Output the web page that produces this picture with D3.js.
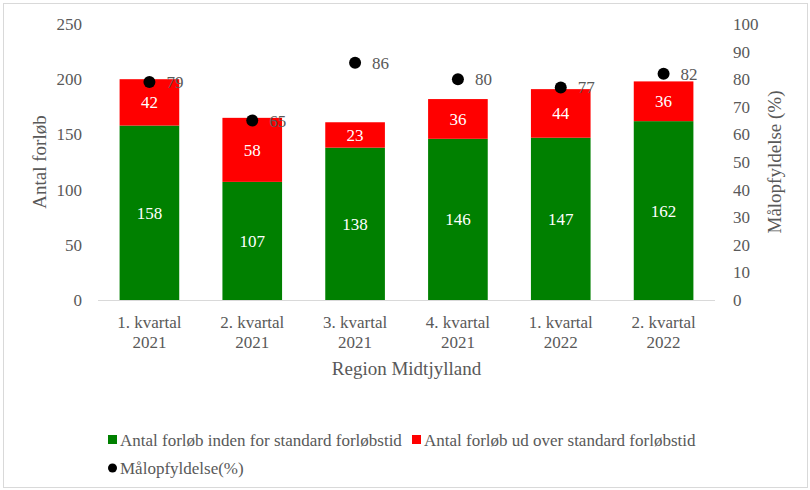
<!DOCTYPE html>
<html>
<head>
<meta charset="utf-8">
<script src="https://cdn.jsdelivr.net/npm/d3@7"></script>
<style>
	body { margin: 0; background: #fff; }
</style>
</head>
<body>
<svg id="chart" width="810" height="490"></svg>
<script>
	var categories = ['1. kvartal|2021', '2. kvartal|2021', '3. kvartal|2021', '4. kvartal|2021', '1. kvartal|2022', '2. kvartal|2022'];
	var inside = [158, 107, 138, 146, 147, 162];
	var outside = [42, 58, 23, 36, 44, 36];
	var goalPct = [79, 65, 86, 80, 77, 82];
	var leftTicks = [0, 50, 100, 150, 200, 250];
	var rightTicks = [0, 10, 20, 30, 40, 50, 60, 70, 80, 90, 100];

	var GREEN = '#008000', RED = '#ff0000', GREY = '#595959';
	var FONT = '"Liberation Serif", "Times New Roman", serif';

	var svg = d3.select('#chart');
	var margin = {top: 24, left: 98, bottom: 190, right: 95};
	var w = 810 - margin.left - margin.right;
	var h = 490 - margin.top - margin.bottom;

	// outer frame
	svg.append('rect')
		.attr('x', 3.5).attr('y', 3.5)
		.attr('width', 804).attr('height', 484)
		.attr('fill', 'none').attr('stroke', '#d9d9d9');

	var base = svg.append('g').attr('transform', 'translate(' + margin.left + ',' + margin.top + ')');

	var x = d3.scaleBand().domain(categories).range([0, w]).paddingInner(0.42).paddingOuter(0.21);
	var yLeft = d3.scaleLinear().domain([0, 250]).range([h, 0]);
	var yRight = d3.scaleLinear().domain([0, 100]).range([h, 0]);

	var rows = categories.map(function (c, i)
	{
		return {cat: c, a: inside[i], b: outside[i], p: goalPct[i]};
	});

	// bars - green bottom
	base.selectAll('rect.inside').data(rows).enter().append('rect')
		.attr('class', 'inside')
		.attr('x', function (d) { return x(d.cat); })
		.attr('width', x.bandwidth())
		.attr('y', function (d) { return yLeft(d.a); })
		.attr('height', function (d) { return yLeft(0) - yLeft(d.a); })
		.attr('fill', GREEN);

	// red on top
	base.selectAll('rect.outside').data(rows).enter().append('rect')
		.attr('class', 'outside')
		.attr('x', function (d) { return x(d.cat); })
		.attr('width', x.bandwidth())
		.attr('y', function (d) { return yLeft(d.a + d.b); })
		.attr('height', function (d) { return yLeft(d.a) - yLeft(d.a + d.b); })
		.attr('fill', RED);

	// bar labels
	base.selectAll('text.lblIn').data(rows).enter().append('text')
		.attr('x', function (d) { return x(d.cat) + x.bandwidth() / 2; })
		.attr('y', function (d) { return yLeft(d.a / 2); })
		.attr('dy', '0.35em').attr('text-anchor', 'middle')
		.attr('fill', '#fff').style('font-size', '17px')
		.text(function (d) { return d.a; });

	base.selectAll('text.lblOut').data(rows).enter().append('text')
		.attr('x', function (d) { return x(d.cat) + x.bandwidth() / 2; })
		.attr('y', function (d) { return yLeft(d.a + d.b / 2); })
		.attr('dy', '0.35em').attr('text-anchor', 'middle')
		.attr('fill', '#fff').style('font-size', '17px')
		.text(function (d) { return d.b; });

	// baseline
	base.append('line')
		.attr('x1', 0).attr('x2', w)
		.attr('y1', h + 0.5).attr('y2', h + 0.5)
		.attr('stroke', '#d9d9d9').attr('stroke-width', 1);

	// left axis
	var leftAxis = d3.axisLeft(yLeft).tickValues(leftTicks).tickSize(0).tickPadding(16);
	var gl = base.append('g').call(leftAxis);
	gl.select('.domain').remove();
	gl.selectAll('text').attr('fill', GREY).style('font-size', '17px');

	// right axis
	var rightAxis = d3.axisRight(yRight).tickValues(rightTicks).tickSize(0).tickPadding(18);
	var gr = base.append('g').attr('transform', 'translate(' + w + ',0)').call(rightAxis);
	gr.select('.domain').remove();
	gr.selectAll('text').attr('fill', GREY).style('font-size', '17px');

	// category labels (two lines)
	var gx = base.append('g').attr('transform', 'translate(0,' + h + ')');
	rows.forEach(function (d)
	{
		var parts = d.cat.split('|');
		var t = gx.append('text')
			.attr('x', x(d.cat) + x.bandwidth() / 2)
			.attr('text-anchor', 'middle')
			.attr('fill', GREY).style('font-size', '17px');
		t.append('tspan').attr('x', x(d.cat) + x.bandwidth() / 2).attr('y', 28).text(parts[0]);
		t.append('tspan').attr('x', x(d.cat) + x.bandwidth() / 2).attr('y', 48).text(parts[1]);
	});

	// goal dots
	base.selectAll('circle.goal').data(rows).enter().append('circle')
		.attr('cx', function (d) { return x(d.cat) + x.bandwidth() / 2; })
		.attr('cy', function (d) { return yRight(d.p); })
		.attr('r', 6).attr('fill', '#000');

	base.selectAll('text.goal').data(rows).enter().append('text')
		.attr('x', function (d) { return x(d.cat) + x.bandwidth() / 2 + 17; })
		.attr('y', function (d) { return yRight(d.p); })
		.attr('dy', '0.35em')
		.attr('fill', GREY).style('font-size', '17px')
		.text(function (d) { return d.p; });

	// axis titles
	svg.append('text')
		.attr('transform', 'translate(46,' + (margin.top + h / 2) + ') rotate(-90)')
		.attr('text-anchor', 'middle').attr('fill', GREY).style('font-size', '19px')
		.text('Antal forløb');

	svg.append('text')
		.attr('transform', 'translate(781,' + (margin.top + h / 2) + ') rotate(-90)')
		.attr('text-anchor', 'middle').attr('fill', GREY).style('font-size', '19px')
		.text('Målopfyldelse (%)');

	svg.append('text')
		.attr('x', margin.left + w / 2).attr('y', 375)
		.attr('text-anchor', 'middle').attr('fill', GREY).style('font-size', '19px')
		.text('Region Midtjylland');

	// legend
	var legend = svg.append('g');
	var items = [
		{type: 'rect', color: GREEN, label: 'Antal forløb inden for standard forløbstid', x: 108, y: 440},
		{type: 'rect', color: RED, label: 'Antal forløb ud over standard forløbstid', x: 412, y: 440},
		{type: 'dot', color: '#000', label: 'Målopfyldelse(%)', x: 108, y: 468}
	];
	items.forEach(function (it)
	{
		if (it.type === 'rect')
		{
			legend.append('rect').attr('x', it.x).attr('y', it.y - 5)
				.attr('width', 9).attr('height', 9).attr('fill', it.color);
		}
		else
		{
			legend.append('circle').attr('cx', it.x + 4.5).attr('cy', it.y)
				.attr('r', 4.5).attr('fill', it.color);
		}
		legend.append('text').attr('x', it.x + 12).attr('y', it.y)
			.attr('dy', '0.35em').attr('fill', GREY).style('font-size', '17px')
			.text(it.label);
	});

	// serif everywhere (axis groups set sans-serif as an attribute)
	svg.selectAll('g').attr('font-family', null);
	svg.selectAll('text').style('font-family', FONT);
</script>
</body>
</html>
